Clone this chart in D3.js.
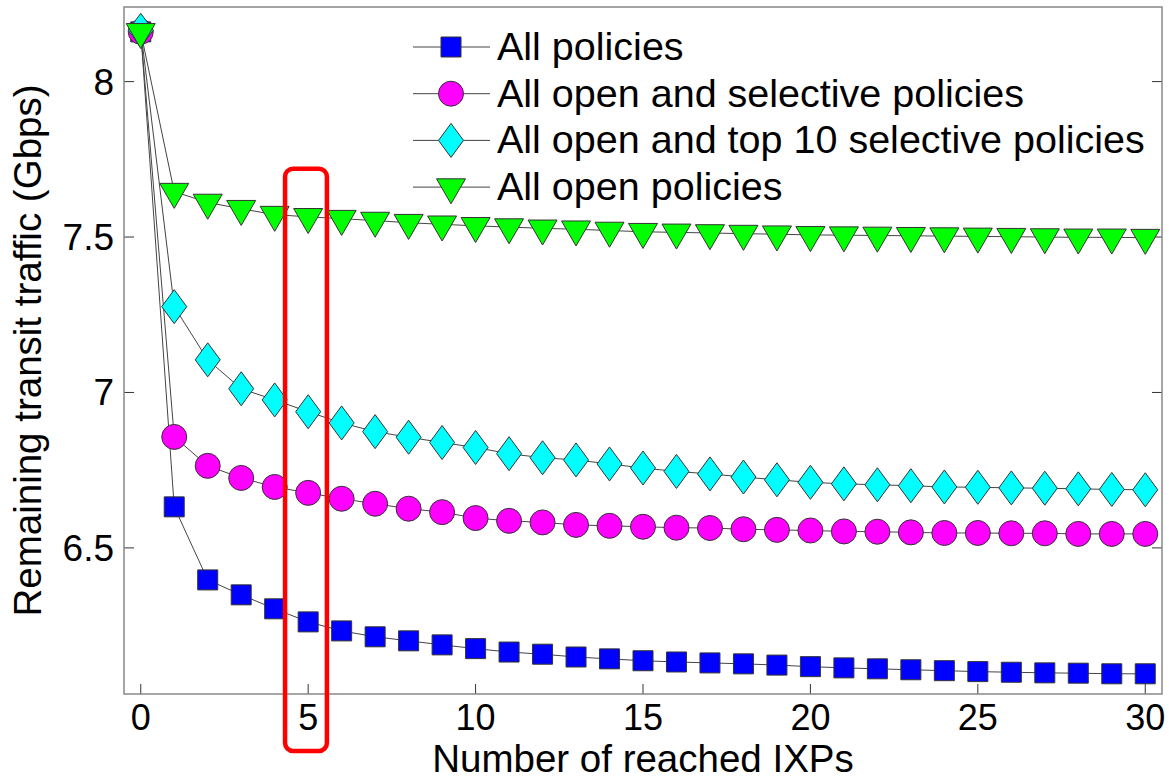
<!DOCTYPE html>
<html lang="en">
<head>
  <meta charset="UTF-8">
  <title>Remaining transit traffic vs reached IXPs</title>
  <script src="https://d3js.org/d3.v7.min.js"></script>
  <style>
    body {
      margin: 0;
      background: #ffffff;
    }
    svg {
      font-family: "Liberation Sans", Arial, sans-serif;
    }
    .tick-label {
      font-size: 36px;
      fill: #000;
    }
    .y-tick-label {
      font-size: 37px;
      fill: #000;
    }
    .axis-title {
      font-size: 38.5px;
      fill: #000;
    }
    .legend-text {
      font-size: 39.5px;
      fill: #000;
    }
  </style>
</head>
<body>
<script>
  // number of reached IXPs (x)
  const reachedIxps = [0, 1, 2, 3, 4, 5, 6, 7, 8, 9, 10, 11, 12, 13, 14, 15,
                       16, 17, 18, 19, 20, 21, 22, 23, 24, 25, 26, 27, 28, 29, 30];

  // remaining transit traffic in Gbps
  const allPolicies = [8.16, 6.632, 6.397, 6.349, 6.304, 6.262, 6.233, 6.214, 6.201, 6.188,
                       6.176, 6.165, 6.158, 6.149, 6.143, 6.137, 6.133, 6.130, 6.127, 6.123,
                       6.118, 6.114, 6.111, 6.108, 6.105, 6.102, 6.100, 6.098, 6.097, 6.095, 6.095];
  const openSelective = [8.16, 6.857, 6.764, 6.725, 6.696, 6.677, 6.658, 6.642, 6.626, 6.615,
                         6.596, 6.587, 6.582, 6.574, 6.571, 6.568, 6.565, 6.564, 6.560, 6.558,
                         6.556, 6.553, 6.552, 6.550, 6.548, 6.548, 6.547, 6.547, 6.545, 6.545, 6.545];
  const openTop10 = [8.165, 7.276, 7.105, 7.012, 6.976, 6.938, 6.902, 6.874, 6.856, 6.839,
                     6.823, 6.803, 6.790, 6.783, 6.770, 6.757, 6.746, 6.738, 6.728, 6.719,
                     6.711, 6.706, 6.703, 6.700, 6.696, 6.695, 6.693, 6.692, 6.690, 6.688, 6.687];
  const openOnly = [8.16, 7.646, 7.611, 7.591, 7.572, 7.565, 7.559, 7.553, 7.546, 7.541,
                    7.536, 7.532, 7.528, 7.525, 7.521, 7.517, 7.515, 7.513, 7.511, 7.509,
                    7.507, 7.506, 7.505, 7.504, 7.503, 7.502, 7.501, 7.500, 7.499, 7.499, 7.498];

  const seriesNames = [
    "All policies",
    "All open and selective policies",
    "All open and top 10 selective policies",
    "All open policies"
  ];
  const seriesColors = ["#0000ff", "#ff00ff", "#00ffff", "#00ff00"];
  const seriesShapes = ["square", "circle", "diamond", "triangle"];

  const xTicks = [0, 5, 10, 15, 20, 25, 30];
  const yTicks = [6.5, 7, 7.5, 8];
  const xDomain = [-0.5, 30.5];
  const yDomain = [6.03, 8.24];
  const highlightIxp = 5;

  const width = 1169;
  const height = 781;
  const margin = { top: 7, right: 7, bottom: 87, left: 124 };

  const svg = d3.select("body").append("svg")
    .attr("width", width)
    .attr("height", height);

  const x = d3.scaleLinear()
    .domain(xDomain)
    .range([margin.left, width - margin.right]);

  const y = d3.scaleLinear()
    .domain(yDomain)
    .range([height - margin.bottom, margin.top]);

  // marker path centred on 0,0
  function markerPath(shape) {
    switch (shape) {
      case "square":
        return "M-10,-10H10V10H-10Z";
      case "circle":
        return "M-12.5,0A12.5,12.5 0 1,0 12.5,0A12.5,12.5 0 1,0 -12.5,0Z";
      case "diamond":
        return "M0,-17L12.5,0L0,17L-12.5,0Z";
      case "triangle": // pointing down, centroid at the data point
        return "M-14.5,-8.3L14.5,-8.3L0,16.7Z";
    }
  }

  const axisColor = "#888888";
  const tickColor = "#333333";

  // ticks: bottom (inward), left and right (inward)
  const gTicks = svg.append("g");
  xTicks.forEach(t => {
    gTicks.append("line")
      .attr("x1", x(t)).attr("x2", x(t))
      .attr("y1", y.range()[0]).attr("y2", y.range()[0] - 10)
      .attr("stroke", tickColor).attr("stroke-width", 1);
  });
  yTicks.forEach(t => {
    gTicks.append("line")
      .attr("x1", x.range()[0]).attr("x2", x.range()[0] + 10)
      .attr("y1", y(t)).attr("y2", y(t))
      .attr("stroke", tickColor).attr("stroke-width", 1);
    gTicks.append("line")
      .attr("x1", x.range()[1]).attr("x2", x.range()[1] - 10)
      .attr("y1", y(t)).attr("y2", y(t))
      .attr("stroke", tickColor).attr("stroke-width", 1);
  });

  svg.selectAll(".xlab")
    .data(xTicks)
    .join("text")
    .attr("class", "tick-label")
    .attr("x", d => x(d))
    .attr("y", 730)
    .attr("text-anchor", "middle")
    .text(d => d);

  svg.selectAll(".ylab")
    .data(yTicks)
    .join("text")
    .attr("class", "y-tick-label")
    .attr("x", 114)
    .attr("y", d => y(d) + 13)
    .attr("text-anchor", "end")
    .text(d => d);

  svg.append("text")
    .attr("class", "axis-title")
    .attr("x", (x.range()[0] + x.range()[1]) / 2)
    .attr("y", 772)
    .attr("text-anchor", "middle")
    .text("Number of reached IXPs");

  svg.append("text")
    .attr("class", "axis-title")
    .attr("transform", `translate(41,${(y.range()[0] + y.range()[1]) / 2}) rotate(-90)`)
    .attr("text-anchor", "middle")
    .text("Remaining transit traffic (Gbps)");

  // series
  const allSeries = [allPolicies, openSelective, openTop10, openOnly];
  const line = d3.line()
    .x(d => x(d[0]))
    .y(d => y(d[1]));

  const plot = svg.append("g");
  allSeries.forEach((vals, i) => {
    const pts = reachedIxps.map((n, j) => [n, vals[j]]);
    plot.append("path")
      .attr("d", line(pts))
      .attr("fill", "none")
      .attr("stroke", "#444444")
      .attr("stroke-width", 1);
    plot.selectAll(null)
      .data(pts)
      .join("path")
      .attr("transform", d => `translate(${x(d[0])},${y(d[1])})`)
      .attr("d", markerPath(seriesShapes[i]))
      .attr("fill", seriesColors[i])
      .attr("stroke", "#333333")
      .attr("stroke-width", 1);
  });

  // axes box drawn on top
  svg.append("rect")
    .attr("x", x.range()[0])
    .attr("y", y.range()[1])
    .attr("width", x.range()[1] - x.range()[0])
    .attr("height", y.range()[0] - y.range()[1])
    .attr("fill", "none")
    .attr("stroke", axisColor)
    .attr("stroke-width", 1.5);

  // legend
  const legend = svg.append("g");
  const legendX = 413, legendY = 47, legendStep = 46.7;
  seriesNames.forEach((name, i) => {
    const cy = legendY + i * legendStep;
    legend.append("line")
      .attr("x1", legendX).attr("x2", legendX + 77)
      .attr("y1", cy).attr("y2", cy)
      .attr("stroke", "#444444").attr("stroke-width", 1);
    legend.append("path")
      .attr("transform", `translate(${legendX + 38},${cy})`)
      .attr("d", markerPath(seriesShapes[i]))
      .attr("fill", seriesColors[i])
      .attr("stroke", "#333333")
      .attr("stroke-width", 1);
    legend.append("text")
      .attr("class", "legend-text")
      .attr("x", legendX + 84)
      .attr("y", cy + 13)
      .text(name);
  });

  // red highlight around 5 reached IXPs
  svg.append("rect")
    .attr("x", x(highlightIxp - 0.69))
    .attr("y", y(7.72))
    .attr("width", x(highlightIxp + 0.56) - x(highlightIxp - 0.69))
    .attr("height", 751 - y(7.72))
    .attr("rx", 8)
    .attr("fill", "none")
    .attr("stroke", "#ff0000")
    .attr("stroke-width", 4.5);
</script>
</body>
</html>
